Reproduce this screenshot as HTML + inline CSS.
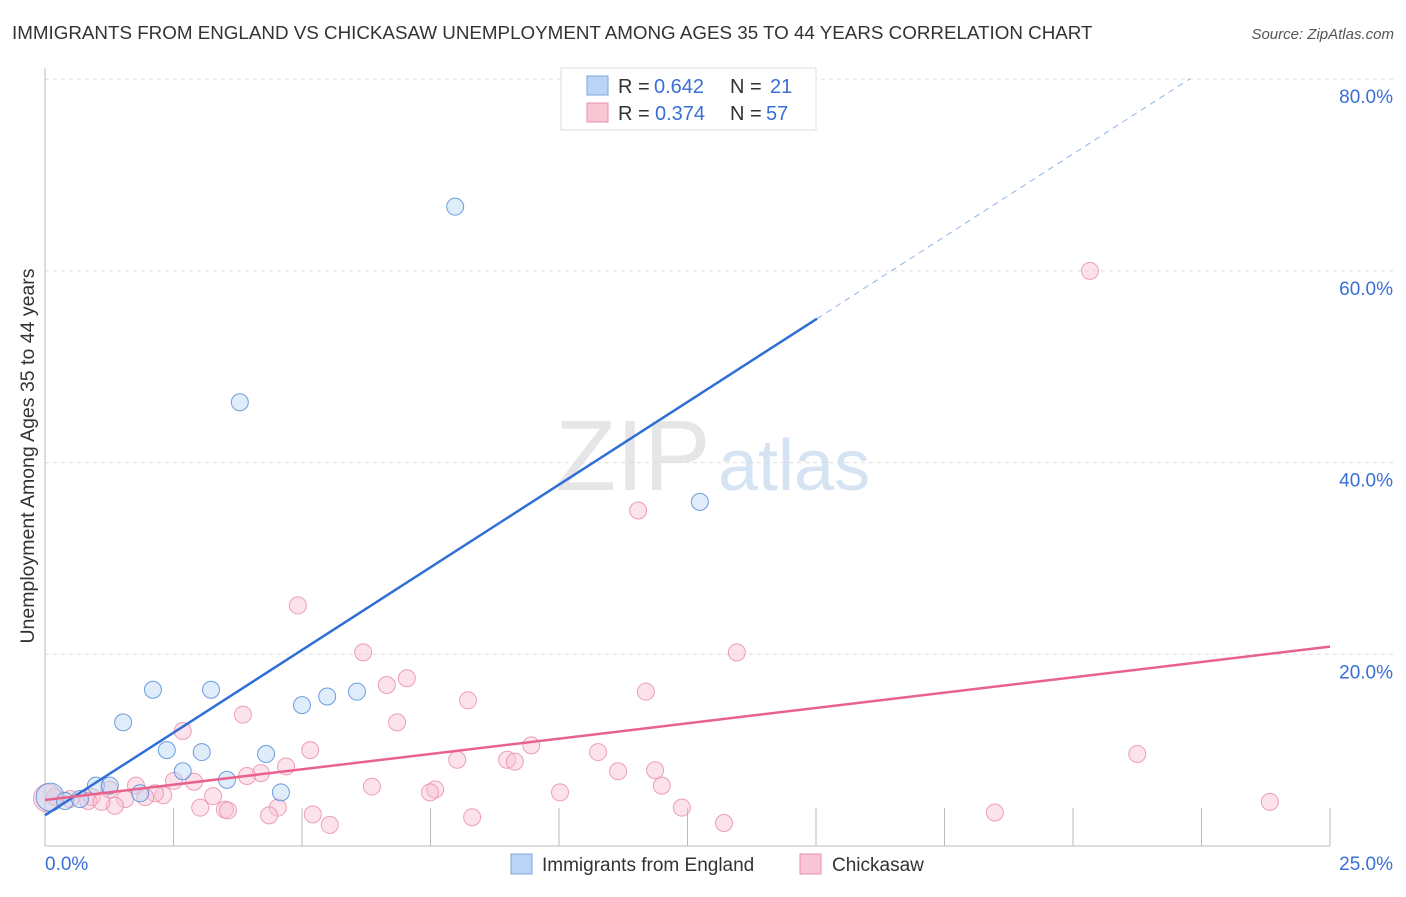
<!DOCTYPE html>
<html><head><meta charset="utf-8"><style>
body{margin:0;background:#fff;font-family:"Liberation Sans",sans-serif;}
svg text{font-family:"Liberation Sans",sans-serif;}
</style></head><body>
<svg id="chart" width="1406" height="892">
<text x="12" y="39" font-size="18.8" fill="#333">IMMIGRANTS FROM ENGLAND VS CHICKASAW UNEMPLOYMENT AMONG AGES 35 TO 44 YEARS CORRELATION CHART</text>
<text x="1394" y="39" font-size="15" fill="#555" font-style="italic" text-anchor="end">Source: ZipAtlas.com</text>
<text x="34" y="456" font-size="19.5" fill="#333" text-anchor="middle" transform="rotate(-90 34 456)">Unemployment Among Ages 35 to 44 years</text>
<g><text x="555" y="490" font-size="100" fill="#e6e6e6" font-family="Liberation Serif">ZIP</text><text x="718" y="490" font-size="72" fill="#d5e3f3">atlas</text></g>
<g id="grid"></g><g id="marks"></g>
<g>
<rect x="561" y="68" width="255" height="62" fill="#fff" stroke="#ddd"/>
<rect x="587" y="76" width="21" height="19" fill="#b9d4f5" stroke="#7aa7e0"/>
<text x="618" y="93" font-size="20" fill="#333">R =</text>
<text x="654" y="93" font-size="20" fill="#3a6fd8">0.642</text>
<text x="730" y="93" font-size="20" fill="#333">N =</text>
<text x="770" y="93" font-size="20" fill="#3a6fd8">21</text>
<rect x="587" y="103" width="21" height="19" fill="#f9c6d6" stroke="#ec8fae"/>
<text x="618" y="120" font-size="20" fill="#333">R =</text>
<text x="655" y="120" font-size="20" fill="#3a6fd8">0.374</text>
<text x="730" y="120" font-size="20" fill="#333">N =</text>
<text x="766" y="120" font-size="20" fill="#3a6fd8">57</text>
</g>
<g>
<rect x="511" y="854" width="21" height="20" fill="#b9d4f5" stroke="#7aa7e0"/>
<text x="542" y="871" font-size="19" fill="#333">Immigrants from England</text>
<rect x="800" y="854" width="21" height="20" fill="#f9c6d6" stroke="#ec8fae"/>
<text x="832" y="871" font-size="19" fill="#333">Chickasaw</text>
</g>
</svg>
<script>
const yTicks=[20,40,60,80];
const xTickLabels=["0.0%","25.0%"];
const englandX=[7.98,3.79,12.74,2.10,3.23,1.52,2.37,3.05,4.30,5.0,5.49,6.07,2.68,3.54,4.59,0.99,1.26,1.85,0.1,0.39,0.68];
const englandY=[66.7,46.3,35.9,16.3,16.3,12.9,10.0,9.8,9.6,14.7,15.6,16.1,7.8,6.9,5.6,6.3,6.3,5.5,5.1,4.7,4.9];
const chickX=[20.33,11.54,4.92,6.19,13.46,7.04,6.65,8.23,11.69,3.85,6.85,2.68,9.46,5.16,10.76,21.25,8.02,8.99,9.14,4.69,4.20,3.93,11.15,11.87,2.51,2.90,1.77,1.25,6.36,7.59,7.49,12.0,10.02,3.27,2.30,2.14,1.95,1.56,0.91,0.84,0.49,0.19,1.36,3.02,3.50,3.56,4.53,4.36,5.21,5.54,8.31,12.39,13.21,18.48,23.83,0.05,1.1];
const chickY=[60.0,35.0,25.1,20.2,20.2,17.5,16.8,15.2,16.1,13.7,12.9,12.0,10.5,10.0,9.8,9.6,9.0,9.0,8.8,8.3,7.6,7.3,7.8,7.9,6.8,6.7,6.3,5.9,6.2,5.9,5.6,6.3,5.6,5.2,5.3,5.5,5.1,4.9,5.1,4.7,4.9,5.1,4.2,4.0,3.8,3.7,4.0,3.2,3.3,2.2,3.0,4.0,2.4,3.5,4.6,5.0,4.6];
const englandFit=[3.2,3.45];
const chickFit=[4.8,0.64];
const X=v=>45+v*51.4, Y=v=>846-v*9.585;
const NS="http://www.w3.org/2000/svg";
function mk(t,a,p){const e=document.createElementNS(NS,t);for(const k in a)e.setAttribute(k,a[k]);p.appendChild(e);return e;}
const g=document.getElementById('grid'),m=document.getElementById('marks');
yTicks.forEach(v=>{
 const l=mk('line',{x1:45,x2:1395,y1:Y(v),y2:Y(v),stroke:'#ddd','stroke-dasharray':'4,4'},g);
 
 
 const t=mk('text',{x:1393,y:Y(v)+24,'font-size':19,fill:'#3a6fd8','text-anchor':'end'},g);t.textContent=v.toFixed(1)+'%';
 
 
});
let ax=mk('line',{x1:45,x2:45,y1:68,y2:846,stroke:'#bbb'},g);


ax=mk('line',{x1:45,x2:1330,y1:846,y2:846,stroke:'#bbb'},g);


for(let i=1;i<=10;i++){const l=mk('line',{x1:X(i*2.5),x2:X(i*2.5),y1:808,y2:846,stroke:'#bbb'},g);
 
 }
[[0,'start',45],[25,'end',1393]].forEach((d,i)=>{const t=mk('text',{x:d[2],y:870,'font-size':19,fill:'#3a6fd8','text-anchor':d[1]},g);t.textContent=xTickLabels[i];
 
 });
function dots(xs,ys,fill,stroke,name){xs.forEach((x,i)=>{const r=(i==xs.length-2&&name=='chickasaw-point')||(name=='england-point'&&i==18)?14:8.5;
 const c=mk('circle',{cx:X(x),cy:Y(ys[i]),r:r,fill:fill,'fill-opacity':0.45,stroke:stroke,'stroke-opacity':0.8},m);
 
 });}
dots(chickX,chickY,'#f9c0d2','#e889a8','chickasaw-point');
dots(englandX,englandY,'#b9d4f5','#4f86d6','england-point');
let l=mk('line',{x1:X(0),y1:Y(englandFit[0]),x2:X(15.02),y2:Y(englandFit[0]+englandFit[1]*15.02),stroke:'#2f6fd6','stroke-width':2.5},m);


l=mk('line',{x1:X(15.02),y1:Y(englandFit[0]+englandFit[1]*15.02),x2:X(22.28),y2:Y(englandFit[0]+englandFit[1]*22.28),stroke:'#8fb2e8','stroke-width':1,'stroke-dasharray':'6,5'},m);


l=mk('line',{x1:X(0),y1:Y(chickFit[0]),x2:X(25),y2:Y(chickFit[0]+chickFit[1]*25),stroke:'#e8628c','stroke-width':2.5},m);


</script>
</body></html>
